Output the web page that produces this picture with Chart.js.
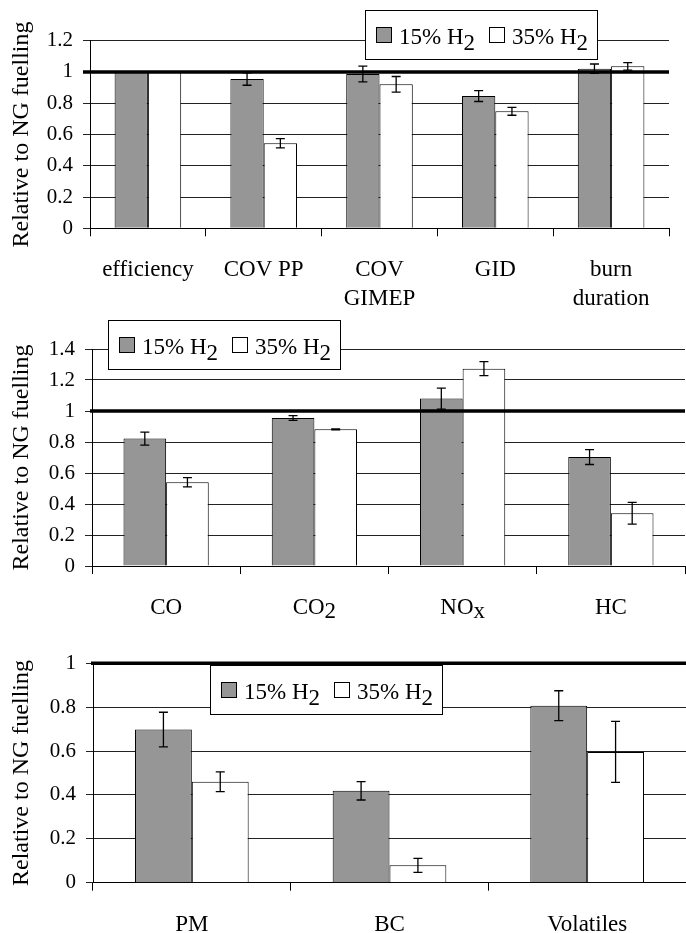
<!DOCTYPE html>
<html><head><meta charset="utf-8">
<script src="https://cdn.jsdelivr.net/npm/chart.js@4.4.1/dist/chart.umd.min.js"></script>
<style>
html,body{margin:0;padding:0;background:#fff;}
.wrap{position:absolute;left:0;width:686px;}
</style></head><body>
<div class="wrap" style="top:0;height:310px"><canvas id="c1" width="686" height="310"></canvas></div>
<div class="wrap" style="top:310px;height:310px"><canvas id="c2" width="686" height="310"></canvas></div>
<div class="wrap" style="top:620px;height:313px"><canvas id="c3" width="686" height="313"></canvas></div>
<script>
// combustion parameters
const combCats = ['efficiency', 'COV PP', 'COV\nGIMEP', 'GID', 'burn\nduration'];
const comb15 = [1.0, 0.955, 0.987, 0.846, 1.021];
const comb35 = [1.0, 0.544, 0.921, 0.748, 1.036];
const comb15Err = [0, 0.04, 0.05, 0.035, 0.03];
const comb35Err = [0, 0.03, 0.05, 0.025, 0.024];

// gaseous emissions ('_' = subscript)
const gasCats = ['CO', 'CO_2', 'NO_x', 'HC'];
const gas15 = [0.822, 0.955, 1.08, 0.703];
const gas35 = [0.54, 0.882, 1.273, 0.34];
const gas15Err = [0.042, 0.015, 0.068, 0.048];
const gas35Err = [0.03, 0.003, 0.045, 0.07];

// particulates
const pmCats = ['PM', 'BC', 'Volatiles'];
const pm15 = [0.698, 0.419, 0.807];
const pm35 = [0.46, 0.079, 0.596];
const pm15Err = [0.079, 0.042, 0.068];
const pm35Err = [0.045, 0.032, 0.139];

const yMaxes = [1.2, 1.4, 1.0];
const yStep = 0.2;
const seriesNames = ['15% H_2', '35% H_2'];

const FONT = "'Liberation Serif','Times New Roman',serif";
const GRAY = '#969696';

function richText(ctx, str, x, y, drop, align){
  const p = str.split('_');
  const w0 = ctx.measureText(p[0]).width;
  const w1 = p[1] ? ctx.measureText(p[1]).width : 0;
  const sx = align === 'left' ? x : x - (w0 + w1) / 2;
  ctx.textAlign = 'left';
  ctx.fillText(p[0], sx, y);
  if(p[1]) ctx.fillText(p[1], sx + w0, y + drop);
}

const extras = {
  id: 'extras',
  afterDatasetsDraw(chart, args, o){
    const ctx = chart.ctx, a = chart.chartArea;
    const y = chart.scales.y, x = chart.scales.x;
    ctx.save();
    // reference line at 1
    const y1 = y.getPixelForValue(1);
    ctx.strokeStyle = '#000'; ctx.lineWidth = 3.5;
    ctx.beginPath(); ctx.moveTo(a.left - o.refStart, y1); ctx.lineTo(a.right, y1); ctx.stroke();
    // error bars
    ctx.lineWidth = 1.3;
    chart.data.datasets.forEach((ds, di)=>{
      chart.getDatasetMeta(di).data.forEach((bar, i)=>{
        const e = ds.errors[i];
        if(!e) return;
        const t = y.getPixelForValue(ds.data[i] + e), b = y.getPixelForValue(ds.data[i] - e);
        ctx.beginPath();
        ctx.moveTo(bar.x, t); ctx.lineTo(bar.x, b);
        ctx.moveTo(bar.x - 4.5, t); ctx.lineTo(bar.x + 4.5, t);
        ctx.moveTo(bar.x - 4.5, b); ctx.lineTo(bar.x + 4.5, b);
        ctx.stroke();
      });
    });
    // category labels
    ctx.fillStyle = '#000';
    ctx.font = '23px ' + FONT;
    ctx.textBaseline = 'alphabetic';
    chart.data.labels.forEach((lab, i)=>{
      const cx = x.getPixelForValue(i);
      lab.split('\n').forEach((ln, k)=> richText(ctx, ln, cx, a.bottom + 48 + k * 29, 4));
    });
    // legend
    const lx = o.legend[0], ly = o.legend[1];
    ctx.fillStyle = '#fff'; ctx.fillRect(lx, ly, 232, 49);
    ctx.strokeStyle = '#000'; ctx.lineWidth = 1;
    ctx.strokeRect(lx + 0.5, ly + 0.5, 232, 49);
    [[GRAY, 11], ['#fff', 124]].forEach(([fill, off], k)=>{
      ctx.fillStyle = fill;
      ctx.fillRect(lx + off + 0.5, ly + 17.5, 15, 15);
      ctx.strokeRect(lx + off + 0.5, ly + 17.5, 15, 15);
      ctx.fillStyle = '#000';
      ctx.font = '23px ' + FONT;
      richText(ctx, seriesNames[k], lx + off + 23, ly + 34, 6, 'left');
    });
    ctx.restore();
  }
};

function makeChart(id, cats, s15, s35, e15, e35, yMax, pad, yWidth, legend, refStart){
  return new Chart(document.getElementById(id), {
    type: 'bar',
    data: {
      labels: cats,
      datasets: [
        { label: seriesNames[0], data: s15, errors: e15, backgroundColor: GRAY, borderColor: '#000', borderWidth: 1 },
        { label: seriesNames[1], data: s35, errors: e35, backgroundColor: '#fff', borderColor: '#000', borderWidth: 1 }
      ]
    },
    options: {
      responsive: false, animation: false, events: [],
      devicePixelRatio: 1,
      layout: { padding: pad },
      datasets: { bar: { categoryPercentage: 0.575, barPercentage: 1 } },
      scales: {
        x: {
          grid: { offset: true, drawOnChartArea: false, drawTicks: true, tickLength: 8, color: '#000' },
          border: { display: true, color: '#000' },
          ticks: { display: false },
          afterFit: s => { s.height = 8; }
        },
        y: {
          min: 0, max: yMax,
          ticks: { stepSize: yStep, color: '#000', padding: 10, font: { family: FONT, size: 21 },
                   callback: v => String(Math.round(v * 10) / 10) },
          grid: { color: '#222', tickLength: 7 },
          border: { display: true, color: '#000' },
          title: { display: true, text: 'Relative to NG fuelling', color: '#000', padding: { top: 7, bottom: 0 }, font: { family: FONT, size: 24 } },
          afterFit: s => { s.width = yWidth; }
        }
      },
      plugins: { legend: { display: false }, tooltip: { enabled: false }, extras: { legend, refStart } }
    },
    plugins: [extras]
  });
}

makeChart('c1', combCats, comb15, comb35, comb15Err, comb35Err, yMaxes[0], { top: 40.7, right: 17, bottom: 73.7, left: 0 }, 90, [365, 10], 7);
makeChart('c2', gasCats, gas15, gas35, gas15Err, gas35Err, yMaxes[1], { top: 39, right: 1, bottom: 46, left: 0 }, 92, [108, 10], 2);
makeChart('c3', pmCats, pm15, pm35, pm15Err, pm35Err, yMaxes[2], { top: 43.3, right: 0, bottom: 42.3, left: 0 }, 93, [210, 45], 2);
</script>
</body></html>
